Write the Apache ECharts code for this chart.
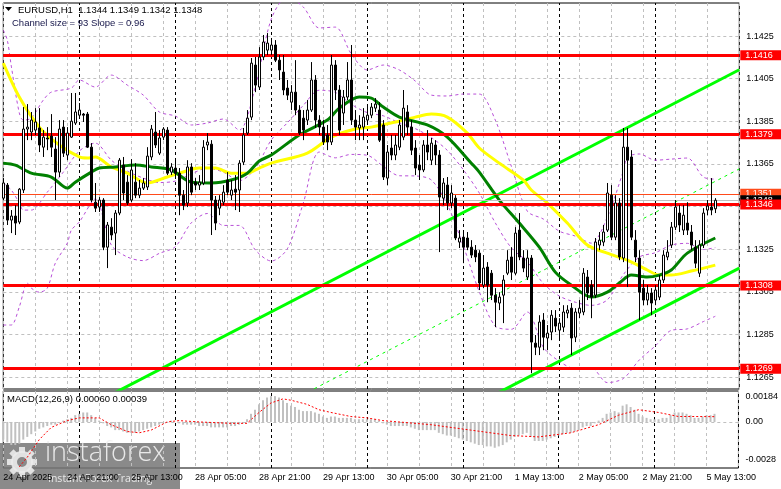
<!DOCTYPE html>
<html><head><meta charset="utf-8">
<script src="https://cdn.jsdelivr.net/npm/echarts@6/dist/echarts.min.js"></script>
<style>html,body{margin:0;padding:0;background:#fff;}#c{width:781px;height:489px;}</style>
</head><body><div id="c"></div>
<script>
// ---- categories (hourly bars) ----
const tradingDays = [['24 Apr',5,23],['25 Apr',0,23],['28 Apr',0,23],['29 Apr',0,23],['30 Apr',0,23],['1 May',0,23],['2 May',0,23],['5 May',0,21]];
const firstLabel = '24 Apr 2025';
const separators = ['25 Apr 00:00','28 Apr 00:00','29 Apr 00:00','30 Apr 00:00','1 May 00:00','2 May 00:00','5 May 00:00'];

// ---- OHLC ----
const open = [
1.1349,1.13551,1.13387,1.13406,1.13378,1.13528,1.13814,1.138,1.13809,1.13819,
1.13729,1.13772,1.13781,1.1372,1.13612,1.13823,1.13692,1.13776,1.13842,1.13879,
1.13884,1.13884,1.13729,1.13471,1.13448,1.13481,1.1326,1.13354,1.13326,1.1342,
1.13645,1.13565,1.13481,1.13565,1.13504,1.13537,1.13542,1.13683,1.138,1.13701,
1.13776,1.13809,1.13612,1.13631,1.13607,1.13504,1.13467,1.13636,1.13565,1.13551,
1.13561,1.13739,1.13743,1.13481,1.13443,1.13471,1.13575,1.13504,1.13532,1.13528,
1.13659,1.13795,1.1387,1.14114,1.14011,1.14152,1.14184,1.14184,1.14208,1.14137,
1.14081,1.14006,1.1394,1.13987,1.13903,1.13865,1.13856,1.13903,1.14044,1.13856,
1.13823,1.13786,1.13753,1.14114,1.13997,1.13889,1.13964,1.14044,1.13856,1.13819,
1.13823,1.13856,1.13879,1.13912,1.13903,1.13833,1.13584,1.13725,1.13692,1.13729,
1.13776,1.13894,1.13823,1.13725,1.13645,1.13622,1.13739,1.13668,1.13739,1.13692,
1.1349,1.13551,1.13467,1.1349,1.13284,1.13307,1.13303,1.1326,1.13246,1.13232,
1.13082,1.13167,1.13138,1.13035,1.12998,1.13035,1.13138,1.13214,1.13138,1.1334,
1.13209,1.1312,1.13209,1.1281,1.12791,1.12918,1.12834,1.12862,1.12927,1.12871,
1.12885,1.12951,1.12974,1.12838,1.12951,1.12956,1.1312,1.13082,1.13035,1.1327,
1.13284,1.1334,1.13504,1.13307,1.13467,1.13209,1.13729,1.13683,1.13293,1.13209,
1.13068,1.13012,1.13045,1.13012,1.13026,1.13106,1.13214,1.1327,1.13354,1.1342,
1.1334,1.13373,1.13331,1.1326,1.13138,1.1327,1.13434,1.13448,1.1344];
const high = [
1.13584,1.13561,1.13434,1.13457,1.13537,1.13917,1.13931,1.13894,1.13912,1.13912,
1.13809,1.13823,1.13884,1.13776,1.13856,1.13856,1.13823,1.13983,1.13983,1.13936,
1.13889,1.13894,1.13748,1.13561,1.13495,1.1349,1.13378,1.13396,1.13434,1.13678,
1.13683,1.13598,1.13673,1.13654,1.13575,1.13584,1.13729,1.13833,1.13894,1.13809,
1.13823,1.13823,1.13654,1.13668,1.13631,1.13528,1.13668,1.13654,1.13584,1.13598,
1.13762,1.13795,1.13762,1.135,1.13504,1.13551,1.13612,1.13575,1.13598,1.13668,
1.13819,1.13903,1.14147,1.14152,1.14198,1.14255,1.14264,1.14241,1.14231,1.14161,
1.14161,1.14044,1.1402,1.14137,1.13926,1.13903,1.1395,1.14128,1.14067,1.13879,
1.13856,1.13833,1.14161,1.14137,1.1402,1.13997,1.14128,1.14208,1.13903,1.13879,
1.13912,1.13926,1.13936,1.13959,1.1394,1.13856,1.13739,1.13786,1.13786,1.13856,
1.13997,1.13926,1.13856,1.13762,1.13692,1.13762,1.13809,1.13772,1.13762,1.13715,
1.13584,1.13589,1.13551,1.13504,1.1334,1.1334,1.13331,1.13293,1.1327,1.13246,
1.13223,1.1319,1.13153,1.13068,1.13049,1.13129,1.13246,1.1326,1.13354,1.1342,
1.13246,1.13246,1.13223,1.12848,1.12941,1.12951,1.12895,1.12965,1.12965,1.12927,
1.12988,1.12988,1.12998,1.12974,1.13012,1.13162,1.13153,1.13106,1.13303,1.13331,
1.13364,1.13561,1.13551,1.13504,1.1349,1.13819,1.13819,1.13715,1.1334,1.13246,
1.13106,1.13082,1.13068,1.13082,1.13129,1.13246,1.13293,1.13378,1.13481,1.13457,
1.13457,1.13471,1.13364,1.13293,1.13293,1.13443,1.13481,1.13584,1.1349];
const low = [
1.13481,1.13364,1.13326,1.13317,1.13368,1.13514,1.13762,1.13762,1.13786,1.13706,
1.13683,1.13715,1.13683,1.13481,1.13589,1.13683,1.13668,1.13772,1.13833,1.1387,
1.13847,1.13725,1.13471,1.13425,1.13425,1.13246,1.13162,1.13293,1.13223,1.1341,
1.13481,1.13457,1.13471,1.1349,1.1349,1.13528,1.13528,1.13668,1.13725,1.13692,
1.13762,1.13598,1.13598,1.13584,1.1341,1.13434,1.13448,1.13504,1.13528,1.13528,
1.13551,1.13715,1.13317,1.1334,1.1341,1.13457,1.13504,1.13481,1.13434,1.13425,
1.13645,1.13786,1.13856,1.13987,1.13997,1.14137,1.14161,1.14161,1.14128,1.14044,
1.13973,1.1395,1.13903,1.13879,1.13786,1.13762,1.13833,1.13894,1.13819,1.13786,
1.13739,1.13715,1.13739,1.1395,1.13786,1.13833,1.1395,1.13833,1.13762,1.13762,
1.13762,1.13833,1.13865,1.13894,1.13753,1.13575,1.13551,1.13668,1.13668,1.13715,
1.13762,1.13786,1.13692,1.13598,1.13575,1.13612,1.13668,1.13645,1.13645,1.13237,
1.13457,1.13434,1.13443,1.13293,1.13256,1.13185,1.13246,1.13209,1.1319,1.13059,
1.13068,1.13002,1.13012,1.12885,1.12965,1.12904,1.13129,1.13106,1.13129,1.13199,
1.13143,1.13106,1.12669,1.12754,1.12754,1.12777,1.12777,1.12824,1.12862,1.12834,
1.12862,1.12927,1.12754,1.12815,1.12927,1.12941,1.13012,1.12927,1.13021,1.13246,
1.13265,1.13331,1.13293,1.13293,1.13199,1.1319,1.13073,1.13293,1.1319,1.12918,
1.12988,1.12988,1.12941,1.12988,1.13012,1.13092,1.13199,1.13256,1.1334,1.13331,
1.13317,1.13317,1.13246,1.13162,1.1312,1.13256,1.1341,1.1341,1.1342];
const close = [
1.13561,1.13387,1.13406,1.13373,1.13532,1.13814,1.13823,1.13856,1.13847,1.13739,
1.13776,1.13767,1.13729,1.13612,1.13814,1.13701,1.13795,1.13851,1.13894,1.13903,
1.13879,1.13729,1.13481,1.13443,1.13481,1.1326,1.13364,1.13317,1.1342,1.13668,
1.13514,1.13467,1.13622,1.13504,1.13537,1.13561,1.13687,1.13814,1.13739,1.13772,
1.13814,1.13607,1.13636,1.13607,1.13504,1.13457,1.13636,1.13518,1.13551,1.13565,
1.13729,1.13753,1.13481,1.13373,1.13481,1.13518,1.13518,1.13528,1.13518,1.13654,
1.13786,1.13865,1.14123,1.1402,1.14152,1.14222,1.14217,1.14208,1.14137,1.14091,
1.13997,1.13973,1.13987,1.13903,1.13795,1.13809,1.13903,1.14044,1.13856,1.13823,
1.13753,1.13753,1.14114,1.13997,1.13809,1.13964,1.14044,1.13856,1.13823,1.13833,
1.1387,1.13879,1.13917,1.13931,1.13762,1.13589,1.13706,1.13692,1.13739,1.13833,
1.13912,1.13823,1.13715,1.13631,1.13622,1.13739,1.13706,1.13748,1.13692,1.13495,
1.13561,1.13467,1.13514,1.13303,1.13303,1.1326,1.1326,1.13223,1.13214,1.13092,
1.13162,1.13082,1.13035,1.13002,1.13026,1.13106,1.13199,1.13143,1.13326,1.13214,
1.13162,1.13209,1.12815,1.12791,1.12909,1.12838,1.12857,1.12941,1.1289,1.12904,
1.12956,1.12965,1.12834,1.12956,1.12974,1.13138,1.13045,1.13026,1.13284,1.13293,
1.13331,1.13514,1.13307,1.13467,1.13214,1.13729,1.13668,1.13307,1.13214,1.13049,
1.13012,1.13045,1.12998,1.13059,1.13106,1.13223,1.13237,1.13354,1.13448,1.13364,
1.1341,1.1334,1.1327,1.13185,1.1327,1.1342,1.13453,1.13434,1.1348];

// ---- moving averages (bar index, price) ----
const maYellow = [[0,1.14123],[4,1.13964],[9,1.13823],[14,1.13739],[19,1.13683],[21,1.13678],[23,1.13683],[27,1.13636],[31,1.13607],[36,1.13561],[41,1.13589],[44,1.13607],[49,1.13631],[53,1.13631],[57,1.13607],[61,1.13607],[64,1.13631],[67,1.13654],[76,1.13701],[82,1.13776],[88,1.13814],[92,1.13823],[98,1.13847],[103,1.1387],[107,1.13884],[111,1.1387],[116,1.13795],[119,1.13725],[124,1.13654],[130,1.13575],[132,1.13528],[136,1.13467],[141,1.13373],[146,1.1327],[151,1.13232],[156,1.13199],[161,1.13153],[164,1.13129],[167,1.13129],[172,1.13148],[178,1.13176]];
const maGreen = [[0,1.13654],[3,1.13645],[7,1.13607],[12,1.13589],[16,1.13537],[18,1.13565],[22,1.13612],[24,1.13631],[28,1.13636],[33,1.13645],[37,1.13636],[42,1.13622],[47,1.13565],[52,1.13561],[57,1.13575],[61,1.13607],[64,1.13664],[67,1.13692],[74,1.13786],[81,1.13856],[84,1.13912],[89,1.13964],[92,1.13959],[95,1.13917],[99,1.1387],[106,1.13833],[111,1.13776],[117,1.13654],[119,1.13612],[124,1.13481],[129,1.13373],[134,1.1326],[138,1.13143],[142,1.13082],[147,1.13026],[151,1.13049],[154,1.13092],[157,1.13129],[161,1.1312],[164,1.13129],[167,1.13153],[171,1.13232],[178,1.13303]];

// ---- Bollinger bands (bar index, price) ----
const bbUpper = [[0,1.14278],[1,1.14231],[2,1.14109],[4,1.13889],[5,1.13856],[7,1.13865],[10,1.1395],[12,1.13987],[17,1.14006],[19,1.14044],[23,1.14011],[27,1.14067],[31,1.1402],[35,1.13973],[39,1.13894],[43,1.13875],[47,1.13833],[51,1.13842],[55,1.13861],[59,1.13809],[63,1.14011],[67,1.1433],[71,1.14433],[75,1.14386],[79,1.14288],[83,1.14292],[87,1.14166],[91,1.14091],[95,1.14114],[99,1.14091],[103,1.14039],[107,1.13973],[111,1.13969],[115,1.13978],[119,1.13978],[123,1.13856],[127,1.1364],[131,1.13429],[135,1.13392],[139,1.13335],[143,1.13312],[147,1.13279],[151,1.13401],[155,1.13617],[156,1.13682],[159,1.13697],[163,1.13668],[167,1.13673],[171,1.13678],[175,1.13589],[178,1.13579]];
const bbMiddle = [[0,1.13561],[2,1.13528],[4,1.13467],[5,1.13434],[7,1.13434],[11,1.13518],[15,1.13612],[19,1.13711],[23,1.13748],[27,1.13668],[31,1.13617],[35,1.13584],[39,1.13563],[43,1.1357],[47,1.13603],[51,1.13631],[55,1.13612],[59,1.13572],[63,1.13629],[67,1.13763],[71,1.13843],[75,1.13925],[79,1.13996],[83,1.13986],[87,1.1393],[91,1.13891],[95,1.13876],[99,1.13843],[103,1.13816],[107,1.13774],[111,1.13714],[115,1.13623],[119,1.13514],[123,1.13374],[127,1.13257],[131,1.13192],[135,1.1309],[139,1.13031],[143,1.13002],[147,1.12987],[151,1.13013],[155,1.13131],[159,1.13214],[163,1.13234],[167,1.1327],[171,1.13278],[175,1.13249],[178,1.13258]];
const bbLower = [[0,1.12895],[2,1.12895],[4,1.1298],[6,1.13092],[7,1.13068],[9,1.13049],[11,1.13068],[13,1.13185],[16,1.13279],[17,1.1334],[19,1.13378],[23,1.13486],[27,1.1327],[31,1.13214],[35,1.13197],[39,1.13231],[43,1.13262],[47,1.13374],[51,1.13418],[55,1.13362],[59,1.13362],[63,1.13247],[67,1.13195],[71,1.13252],[75,1.13467],[79,1.13706],[83,1.13679],[87,1.13695],[91,1.13691],[95,1.13639],[99,1.13595],[103,1.13594],[107,1.13575],[111,1.1346],[115,1.13266],[119,1.13051],[123,1.1289],[127,1.12875],[131,1.12956],[135,1.12791],[139,1.12725],[143,1.1269],[147,1.12694],[151,1.12625],[155,1.12644],[159,1.12731],[163,1.12797],[167,1.1287],[171,1.12877],[175,1.12911],[178,1.12936]];

// ---- regression channel ----
const channelUpper = [[0,1.12307],[184,1.14092]];
const channelSize = 0.0093;

// ---- levels ----
const redLevels = [1.1416,1.1379,1.1346,1.1308,1.1269];
const askPrice = 1.1351, bidPrice = 1.1348;
const priceGrid = [1.1265,1.1285,1.1305,1.1325,1.1345,1.1365,1.1385,1.1405,1.1425];
const priceLabels = [1.1265,1.1285,1.1305,1.1325,1.1365,1.1385,1.1405,1.1425];

// ---- MACD ----
const macdHist = [
-0.0013,-0.0015,-0.0017,-0.0017,-0.0016,-0.0013,-0.0011,-0.0009,-0.0007,-0.0005,
-0.0004,-0.0003,-0.0002,-0.0002,0.0000,0.0001,0.0002,0.0003,0.0005,0.0006,
0.0007,0.0007,0.0005,0.0003,0.0001,-0.0001,-0.0003,-0.0004,-0.0006,-0.0006,
-0.0007,-0.0008,-0.0008,-0.0008,-0.0007,-0.0006,-0.0005,-0.0004,-0.0003,-0.0002,
-0.0001,0.0000,0.0001,0.0000,-0.0001,-0.0002,-0.0002,-0.0002,-0.0002,-0.0003,
-0.0003,-0.0003,-0.0004,-0.0004,-0.0004,-0.0004,-0.0004,-0.0003,-0.0003,-0.0002,
-0.0001,0.0002,0.0006,0.0009,0.0013,0.0016,0.0018,0.0019,0.0019,0.0018,
0.0016,0.0014,0.0012,0.0011,0.0009,0.0008,0.0008,0.0008,0.0007,0.0006,
0.0004,0.0003,0.0004,0.0004,0.0003,0.0003,0.0003,0.0003,0.0002,0.0002,
0.0002,0.0002,0.0002,0.0002,0.0001,-0.0001,-0.0002,-0.0003,-0.0003,-0.0003,
-0.0003,-0.0003,-0.0004,-0.0005,-0.0006,-0.0006,-0.0006,-0.0006,-0.0006,-0.0008,
-0.0009,-0.0010,-0.0010,-0.0011,-0.0012,-0.0013,-0.0014,-0.0015,-0.0016,-0.0017,
-0.0017,-0.0018,-0.0018,-0.0019,-0.0018,-0.0017,-0.0015,-0.0013,-0.0011,-0.0010,
-0.0009,-0.0008,-0.0011,-0.0014,-0.0014,-0.0014,-0.0013,-0.0012,-0.0011,-0.0010,
-0.0009,-0.0008,-0.0008,-0.0007,-0.0006,-0.0004,-0.0003,-0.0003,-0.0001,0.0001,
0.0003,0.0006,0.0007,0.0008,0.0007,0.0012,0.0013,0.0011,0.0009,0.0006,
0.0004,0.0003,0.0002,0.0002,0.0002,0.0003,0.0003,0.0005,0.0007,0.0007,
0.0007,0.0006,0.0005,0.0003,0.0003,0.0004,0.0005,0.0005,0.0006];
const macdSignal = [[4,-0.0033],[6,-0.0026],[9,-0.0013],[12,-0.0004],[16,0.0001],[19,0.0003],[24,0.0003],[27,-0.0002],[31,-0.0007],[34,-0.0008],[37,-0.0006],[41,0.0000],[44,0.0001],[49,0.0000],[57,-0.0001],[61,-0.0001],[64,0.0007],[67,0.0014],[70,0.0017],[72,0.0016],[76,0.0013],[79,0.0009],[82,0.0007],[87,0.0004],[91,0.0003],[95,0.0001],[99,0.0000],[107,-0.0002],[117,-0.0006],[127,-0.0010],[134,-0.0011],[142,-0.0008],[149,-0.0002],[154,0.0005],[159,0.0009],[164,0.0007],[169,0.0004],[174,0.0004],[178,0.00039]];
const macdTicks = [0.00184, 0, -0.0028];
const macdTickText = ['0.00184','0.00','-0.0028'];

// ---------------------------------------------------------------
const cats = [];
tradingDays.forEach(([d,h0,h1]) => { for (let h=h0; h<=h1; h++) cats.push(d + ' ' + String(h).padStart(2,'0') + ':00'); });
const FONT = '"Liberation Sans", Arial, sans-serif';
const candleData = open.map((o,i) => [o, close[i], low[i], high[i]]);
const last = open.length - 1;
const chUpper = channelUpper;
const chMid = channelUpper.map(p => [p[0], p[1] - channelSize/2]);
const chLower = channelUpper.map(p => [p[0], p[1] - channelSize]);

const chart = echarts.init(document.getElementById('c'));
const levelLabel = (bg) => ({show:true, position:'end', distance:1, formatter: p => Number(p.value).toFixed(4), color:'#fff', backgroundColor:bg, padding:[0,9,0,5], lineHeight:10, height:10, fontSize:9, fontFamily:FONT});
const bbLine = (d) => ({type:'line', xAxisIndex:0, yAxisIndex:0, data:d, showSymbol:false, smooth:0.3, lineStyle:{color:'#b84fd8', width:1, type:[3,3]}, z:3, silent:true});

const option = {
  animation:false,
  backgroundColor:'#ffffff',
  grid:[
    {left:3.3, top:3, width:736, height:386, show:true, borderColor:'#000', borderWidth:1, backgroundColor:'transparent'},
    {left:3.3, top:391, width:736, height:77, show:true, borderColor:'#000', borderWidth:1, backgroundColor:'transparent'}
  ],
  xAxis:[
    {type:'category', gridIndex:0, data:cats, boundaryGap:false, axisLine:{show:false}, axisTick:{show:false}, axisLabel:{show:false},
     splitLine:{show:true, interval:7, lineStyle:{color:'#c0c0c0', type:[3,3], width:1}}},
    {type:'category', gridIndex:1, data:cats, boundaryGap:false, axisLine:{show:false}, axisTick:{show:false},
     axisLabel:{show:true, interval:15, align:'left', fontSize:9, fontFamily:FONT, color:'#000', margin:5,
       formatter:(v,i) => i===0 ? firstLabel : v},
     splitLine:{show:true, interval:7, lineStyle:{color:'#c0c0c0', type:[3,3], width:1}}}
  ],
  yAxis:[
    {type:'value', gridIndex:0, position:'right', min:1.12595, max:1.14405, axisLine:{show:false}, axisTick:{show:false}, splitLine:{show:false},
     axisLabel:{customValues:priceLabels, formatter:v => v.toFixed(4), margin:7, fontSize:9, fontFamily:FONT, color:'#000'}},
    {type:'value', gridIndex:1, position:'right', min:-0.00339, max:0.00228, axisLine:{show:false}, axisTick:{show:false}, splitLine:{show:false},
     axisLabel:{customValues:macdTicks, formatter:v => macdTickText[macdTicks.findIndex(t => Math.abs(t-v)<1e-9)] || '', margin:7, fontSize:9, fontFamily:FONT, color:'#000'}}
  ],
  series:[
    {type:'line', xAxisIndex:0, yAxisIndex:0, data:[], z:1,
     markLine:{silent:true, symbol:'none', precision:5, z:1, label:{show:false},
       data:[...priceGrid.map(v => ({yAxis:v, lineStyle:{color:'#c0c0c0', type:[3,3], width:1}})),
             ...separators.map(s => ({xAxis:s, lineStyle:{color:'#000', type:[3,3], width:1}}))]}},
    {type:'line', xAxisIndex:1, yAxisIndex:1, data:[], z:1,
     markLine:{silent:true, symbol:'none', precision:5, z:1, label:{show:false},
       data:[{yAxis:0, lineStyle:{color:'#c0c0c0', type:[3,3], width:1}},
             ...separators.map(s => ({xAxis:s, lineStyle:{color:'#000', type:[3,3], width:1}}))]}},
    bbLine(bbUpper), bbLine(bbMiddle), bbLine(bbLower),
    {type:'line', xAxisIndex:0, yAxisIndex:0, data:chUpper, showSymbol:false, lineStyle:{color:'#00ff00', width:3}, z:3, silent:true},
    {type:'line', xAxisIndex:0, yAxisIndex:0, data:chLower, showSymbol:false, lineStyle:{color:'#00ff00', width:3}, z:3, silent:true},
    {type:'line', xAxisIndex:0, yAxisIndex:0, data:chMid, showSymbol:false, lineStyle:{color:'#00ff00', width:1, type:[3,4]}, z:3, silent:true},
    {type:'line', xAxisIndex:0, yAxisIndex:0, data:maYellow, showSymbol:false, smooth:0.3, lineStyle:{color:'#ffff00', width:3}, z:4, silent:true},
    {type:'line', xAxisIndex:0, yAxisIndex:0, data:maGreen, showSymbol:false, smooth:0.3, lineStyle:{color:'#008000', width:3}, z:4, silent:true},
    {type:'line', xAxisIndex:0, yAxisIndex:0, data:[], z:6,
     markLine:{silent:true, symbol:'none', precision:5, z:6, lineStyle:{color:'#ff4a1a', width:1, type:'solid'}, label:levelLabel('#ff4a1a'), data:[{yAxis:askPrice}]}},
    {type:'line', xAxisIndex:0, yAxisIndex:0, data:[], z:7,
     markLine:{silent:true, symbol:'none', precision:5, z:7, lineStyle:{color:'#c0c0c0', width:1, type:'solid'}, label:levelLabel('#000'), data:[{yAxis:bidPrice}]}},
    {type:'line', xAxisIndex:0, yAxisIndex:0, data:[], z:8,
     markLine:{silent:true, symbol:'none', precision:5, z:8, lineStyle:{color:'#ff0000', width:3, type:'solid'}, label:levelLabel('#ff0000'), data:redLevels.map(v => ({yAxis:v}))}},
    {type:'candlestick', xAxisIndex:0, yAxisIndex:0, data:candleData, barWidth:3, z:9, silent:true,
     itemStyle:{color:'#ffffff', color0:'#000000', borderColor:'#000000', borderColor0:'#000000', borderWidth:1}},
    {type:'bar', xAxisIndex:1, yAxisIndex:1, data:macdHist, barWidth:2, itemStyle:{color:'#c0c0c0'}, z:3, silent:true},
    {type:'line', xAxisIndex:1, yAxisIndex:1, data:macdSignal, showSymbol:false, lineStyle:{color:'#ff0000', width:1, type:[2,2]}, z:4, silent:true}
  ],
  graphic:[
    {type:'polygon', shape:{points:[[5,7],[12,7],[8.5,11]]}, style:{fill:'#000'}, z:20},
    {type:'text', x:18, y:5, style:{text:'EURUSD,H1  ' + [open[last],high[last],low[last],close[last]].map(v=>v.toFixed(4)).join(' '), font:'9.5px ' + FONT, fill:'#000'}, z:20},
    {type:'text', x:12, y:18, style:{text:'Channel size = 93 Slope = 0.96', font:'9.5px ' + FONT, fill:'#16164a'}, z:20},
    {type:'text', x:7, y:394, style:{text:'MACD(12,26,9) ' + macdHist[last].toFixed(5) + ' ' + macdSignal[macdSignal.length-1][1].toFixed(5), font:'9.5px ' + FONT, fill:'#000'}, z:20},
    {type:'group', x:0, y:443, z:30, children:[
      {type:'rect', shape:{x:0, y:0, width:180, height:46}, style:{fill:'rgba(118,118,118,0.85)'}},
      {type:'ring', shape:{cx:22, cy:19, r:11, r0:5}, style:{fill:'rgba(235,235,235,0.9)'}},
      ...[0,1,2,3,4,5,6,7].map(k => ({type:'rect', x:22, y:19, rotation:k*Math.PI/4, shape:{x:-3, y:-15, width:6, height:6}, style:{fill:'rgba(235,235,235,0.9)'}})),
      {type:'text', x:45, y:-3, style:{text:'instaforex', font:'300 27px "Open Sans", Lato, sans-serif', fill:'rgba(240,240,240,0.92)'}},
      {type:'text', x:48, y:31, style:{text:'Instant Forex Trading', font:'10.5px "Open Sans", sans-serif', fill:'rgba(240,240,240,0.92)'}}
    ]}
  ]
};
chart.setOption(option);
</script>
</body></html>
